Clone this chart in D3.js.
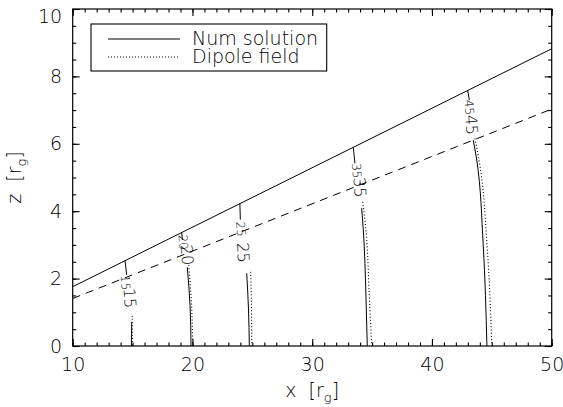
<!DOCTYPE html>
<html>
<head>
<meta charset="utf-8">
<style>
  body { margin: 0; background: #fff; }
  svg text { font-family: "DejaVu Sans", sans-serif; font-weight: 200; fill: #000; }
</style>
<script src="https://d3js.org/d3.v7.min.js"></script>
</head>
<body>
<svg id="chart" width="563" height="407"></svg>
<script>
// ---- data ----
var xTicks = [10, 20, 30, 40, 50];
var zTicks = [0, 2, 4, 6, 8, 10];
var legendNames = ["Num solution", "Dipole field"];

// boundary lines (x, z)
var upperLine = [[10, 1.76], [50, 8.82]];
var dashedLine = [[10, 1.41], [50, 7.03]];

// field lines, one entry per level
var levels = [15, 20, 25, 35, 45];
var numUpper = [
  [[14.37, 2.53], [14.51, 2.11]],
  [[19.10, 3.37], [19.16, 3.15]],
  [[23.96, 4.22], [24.00, 3.75]],
  [[33.43, 5.89], [33.57, 5.42]],
  [[42.99, 7.58], [43.12, 7.30]]
];
var numLower = [
  [[14.93, 0.72], [14.90, 0]],
  [[19.57, 2.34], [19.80, 1.20], [19.88, 0]],
  [[24.53, 2.16], [24.68, 1.10], [24.75, 0]],
  [[34.13, 4.09], [34.27, 3.44], [34.49, 1.46], [34.60, 0]],
  [[43.45, 6.11], [43.74, 5.52], [44.28, 3.00], [44.59, 0]]
];
var dipLower = [
  [[14.97, 0.90], [14.98, 0]],
  [[19.69, 2.40], [19.93, 1.20], [20.02, 0]],
  [[24.86, 2.20], [24.93, 1.10], [24.95, 0]],
  [[34.22, 4.28], [34.49, 3.44], [34.77, 1.46], [34.97, 0]],
  [[43.59, 6.16], [44.00, 5.37], [44.60, 3.00], [45.00, 0]]
];
var labelSmall = [[14.41, 1.88], [19.24, 3.08], [24.05, 3.47], [33.72, 5.20], [43.12, 7.08]];
var labelLarge = [[14.78, 1.42], [19.57, 2.70], [24.25, 2.77], [33.99, 4.71], [43.32, 6.56]];

// ---- layout ----
var svg = d3.select("#chart");
var pL = 72.7, pR = 551.7, pT = 9, pB = 346;

var x = d3.scaleLinear().domain([10, 50]).range([pL, pR]);
var y = d3.scaleLinear().domain([0, 10]).range([pB, pT]);

svg.append("clipPath").attr("id", "plotclip")
  .append("rect")
  .attr("x", pL).attr("y", pT)
  .attr("width", pR - pL).attr("height", pB - pT);

var line = d3.line()
  .x(function(d) { return x(d[0]); })
  .y(function(d) { return y(d[1]); })
  .curve(d3.curveMonotoneY);

var plot = svg.append("g").attr("clip-path", "url(#plotclip)");

plot.append("path").attr("d", line(upperLine))
  .attr("fill", "none").attr("stroke", "#000").attr("stroke-width", 1);
plot.append("path").attr("d", line(dashedLine))
  .attr("fill", "none").attr("stroke", "#000").attr("stroke-width", 1)
  .attr("stroke-dasharray", "8,6");

levels.forEach(function(L, i) {
  plot.append("path").attr("d", line(numUpper[i]))
    .attr("fill", "none").attr("stroke", "#000").attr("stroke-width", 1);
  plot.append("path").attr("d", line(numLower[i]))
    .attr("fill", "none").attr("stroke", "#000").attr("stroke-width", 1);
  plot.append("path").attr("d", line(dipLower[i]))
    .attr("fill", "none").attr("stroke", "#000").attr("stroke-width", 1.1)
    .attr("stroke-dasharray", "1,2.2");

  // label angle follows the whole field line
  var t = numUpper[i][0], b = numLower[i][numLower[i].length - 1];
  var ang = Math.atan2(y(b[1]) - y(t[1]), x(b[0]) - x(t[0])) * 180 / Math.PI;

  [[labelSmall[i], 12], [labelLarge[i], 16]].forEach(function(p) {
    plot.append("text")
      .attr("transform", "translate(" + x(p[0][0]) + "," + y(p[0][1]) + ") rotate(" + ang + ")")
      .attr("text-anchor", "middle")
      .attr("dy", "0.36em")
      .style("font-size", p[1] + "px")
      .text(L);
  });
});

// ---- axes: box + inward ticks on all sides ----
svg.append("rect")
  .attr("x", pL).attr("y", pT)
  .attr("width", pR - pL).attr("height", pB - pT)
  .attr("fill", "none").attr("stroke", "#000").attr("stroke-width", 1.2);

function tickAxis(axis, tr) {
  var g = svg.append("g").attr("transform", tr).call(axis);
  g.select(".domain").remove();
  g.selectAll("line").attr("stroke", "#000").attr("stroke-width", 1.1);
  g.selectAll("text").style("font-size", "19px").attr("fill", "#000");
  g.attr("font-family", null).attr("font-size", null);
  return g;
}

var xMinor = d3.range(10, 51, 1), zMinor = d3.range(0, 10.01, 0.5);

tickAxis(d3.axisBottom(x).tickValues(xMinor).tickSize(-3.5).tickFormat(""), "translate(0," + pB + ")");
tickAxis(d3.axisBottom(x).tickValues(xTicks).tickSize(-7).tickPadding(12).tickFormat(d3.format("d")), "translate(0," + pB + ")");
tickAxis(d3.axisTop(x).tickValues(xMinor).tickSize(-3.5).tickFormat(""), "translate(0," + pT + ")");
tickAxis(d3.axisTop(x).tickValues(xTicks).tickSize(-7).tickFormat(""), "translate(0," + pT + ")");

tickAxis(d3.axisLeft(y).tickValues(zMinor).tickSize(-3.5).tickFormat(""), "translate(" + pL + ",0)");
var yl = tickAxis(d3.axisLeft(y).tickValues(zTicks).tickSize(-7).tickPadding(10.5).tickFormat(d3.format("d")), "translate(" + pL + ",0)");
yl.selectAll(".tick text").attr("y", function(d) { return Math.max(y(d), 16) - y(d); });
tickAxis(d3.axisRight(y).tickValues(zMinor).tickSize(-3.5).tickFormat(""), "translate(" + pR + ",0)");
tickAxis(d3.axisRight(y).tickValues(zTicks).tickSize(-7).tickFormat(""), "translate(" + pR + ",0)");

// ---- axis titles ----
var xt = svg.append("text")
  .attr("x", (pL + pR) / 2).attr("y", 397)
  .attr("text-anchor", "middle")
  .style("font-size", "19px");
xt.append("tspan").text("x\u00a0\u00a0[r");
xt.append("tspan").attr("dy", 5).style("font-size", "13px").text("g");
xt.append("tspan").attr("dy", -5).text("]");

var zt = svg.append("text")
  .attr("transform", "translate(21," + (pT + pB) / 2 + ") rotate(-90)")
  .attr("text-anchor", "middle")
  .style("font-size", "19px");
zt.append("tspan").text("z\u00a0\u00a0[r");
zt.append("tspan").attr("dy", 5).style("font-size", "13px").text("g");
zt.append("tspan").attr("dy", -5).text("]");

// ---- legend ----
var lg = svg.append("g");
lg.append("rect").attr("x", 91).attr("y", 24).attr("width", 235.7).attr("height", 47)
  .attr("fill", "#fff").attr("stroke", "#000").attr("stroke-width", 1.1);
legendNames.forEach(function(name, i) {
  var ly = 39 + i * 18;
  lg.append("line").attr("x1", 108).attr("x2", 180).attr("y1", ly).attr("y2", ly)
    .attr("stroke", "#000").attr("stroke-width", 1.1)
    .attr("stroke-dasharray", i === 0 ? null : "1,2");
  lg.append("text").attr("x", 192).attr("y", ly + 6)
    .style("font-size", "19px").text(name);
});
</script>
</body>
</html>
